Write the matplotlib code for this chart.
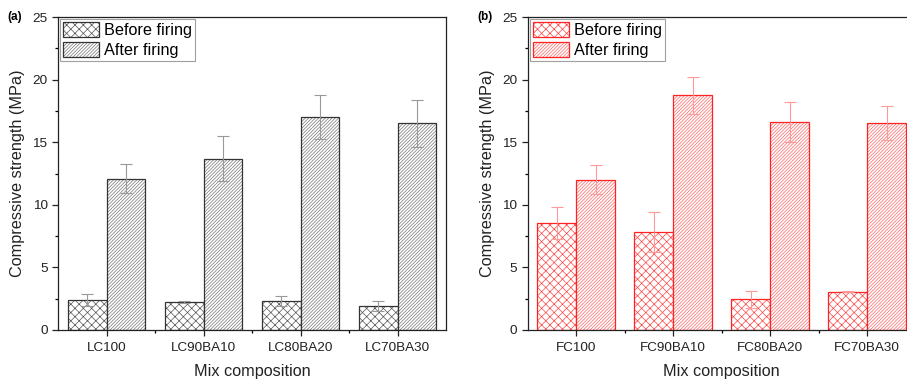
import numpy as np
import matplotlib
matplotlib.use("Agg")
import matplotlib.pyplot as plt
from matplotlib.colors import to_rgba
from matplotlib.ticker import MultipleLocator, FixedLocator

plt.rcParams['font.family'] = ['Liberation Sans', 'DejaVu Sans']
plt.rcParams['hatch.linewidth'] = 0.5

# compressive strength (MPa), mean and std
lc_labels = ["LC100", "LC90BA10", "LC80BA20", "LC70BA30"]
lc_before = [2.4, 2.2, 2.3, 1.9]
lc_before_err = [0.48, 0.08, 0.4, 0.4]
lc_after = [12.1, 13.7, 17.0, 16.5]
lc_after_err = [1.13, 1.79, 1.76, 1.87]

fc_labels = ["FC100", "FC90BA10", "FC80BA20", "FC70BA30"]
fc_before = [8.55, 7.85, 2.45, 3.05]
fc_before_err = [1.31, 1.6, 0.7, 0.05]
fc_after = [12.0, 18.75, 16.6, 16.55]
fc_after_err = [1.17, 1.47, 1.6, 1.36]


def panel(ax, labels, before, before_err, after, after_err,
          edge, hatch1, hatch2, errc, tag, tag_x):
    x = np.arange(len(labels))
    w = 0.4
    ekw = dict(ecolor=errc, elinewidth=0.8, capsize=4, capthick=0.8)
    b1 = ax.bar(x - w / 2, before, w, yerr=before_err, color="white",
                edgecolor=edge, hatch="xxxx", linewidth=0.9,
                label="Before firing", error_kw=ekw)
    b2 = ax.bar(x + w / 2, after, w, yerr=after_err, color="white",
                edgecolor=edge, hatch="//////////", linewidth=0.9,
                label="After firing", error_kw=ekw)
    # hatch lines a bit lighter than the bar outline
    for p in b1:
        p._hatch_color = to_rgba(hatch1)
    for p in b2:
        p._hatch_color = to_rgba(hatch2)
    ax.set_xlim(-0.5, 3.5)
    ax.set_ylim(0, 25)
    ax.set_xticks(x)
    ax.set_xticklabels(labels)
    ax.xaxis.set_minor_locator(FixedLocator([0.5, 1.5, 2.5]))
    ax.yaxis.set_major_locator(MultipleLocator(5))
    ax.yaxis.set_minor_locator(MultipleLocator(2.5))
    ax.tick_params(which="major", direction="out", length=4, width=0.9,
                   labelsize=9.7, colors="#222222")
    ax.tick_params(which="minor", direction="out", length=2.5, width=0.9)
    ax.tick_params(axis="x", pad=5)
    for s in ax.spines.values():
        s.set_linewidth(0.9)
        s.set_color("#222222")
    ax.set_xlabel("Mix composition", fontsize=11.7, color="#222222", labelpad=7)
    ax.set_ylabel("Compressive strength (MPa)", fontsize=11.7, color="#222222",
                  labelpad=5)
    leg = ax.legend(loc="upper left", fontsize=11.7, frameon=True, fancybox=False,
                    edgecolor="#888888", borderaxespad=0.12, borderpad=0.2,
                    handlelength=2.2, handleheight=1.05, handletextpad=0.3,
                    labelspacing=0.2)
    leg.get_frame().set_linewidth(0.8)
    ax.figure.text(tag_x, 0.955, tag, fontsize=8.5, fontweight="bold",
                   ha="center", va="center")


fig = plt.figure(figsize=(9.07, 3.8), dpi=100)
ax1 = fig.add_axes([0.064, 0.1316, 0.4278, 0.8234])
ax2 = fig.add_axes([0.5818, 0.1316, 0.4278, 0.8234])

panel(ax1, lc_labels, lc_before, lc_before_err, lc_after, lc_after_err,
      "#333333", "#555555", "#777777", "#999999", "(a)", 15 / 907)
panel(ax2, fc_labels, fc_before, fc_before_err, fc_after, fc_after_err,
      "#ff2222", "#ff4444", "#ff6666", "#ff9999", "(b)", 485 / 907)

fig.savefig("out.png", dpi=100)
